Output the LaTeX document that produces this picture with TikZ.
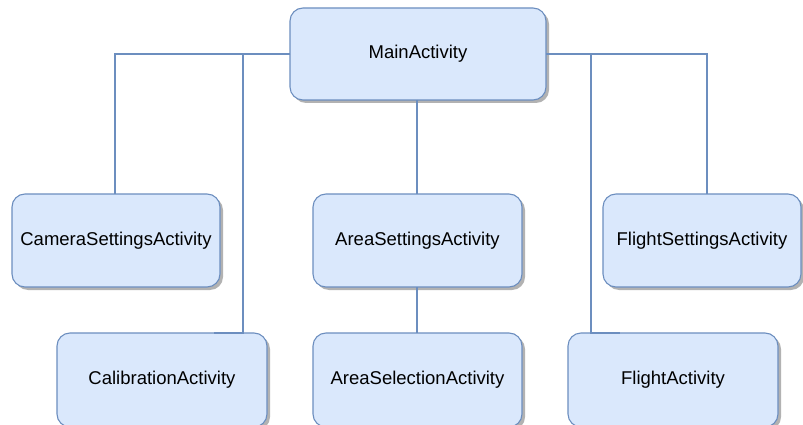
\documentclass[tikz,border=0pt]{standalone}
\usepackage{fontspec}
\setmainfont{Liberation Sans}
\usetikzlibrary{shadows}
\definecolor{boxfill}{HTML}{DAE8FC}
\definecolor{boxline}{HTML}{6C8EBF}
\begin{document}
\begin{tikzpicture}[x=1pt,y=-1pt,
  actbox/.style={draw=boxline, fill=boxfill, line width=1.1pt, rounded corners=13pt,
    inner sep=0pt, outer sep=0pt, font=\fontsize{18.5}{22}\selectfont,
    general shadow={fill=black!30, shadow xshift=3pt, shadow yshift=-3pt}},
  link/.style={draw=boxline, line width=1.7pt}]
\useasboundingbox (0,0) rectangle (803,425);
\node[actbox, minimum width=256pt, minimum height=92pt] (main) at (418,54) {MainActivity};
\node[actbox, minimum width=208pt, minimum height=93pt] (cam) at (116,240.5) {CameraSettingsActivity};
\node[actbox, minimum width=210pt, minimum height=94pt] (cal) at (162,380) {CalibrationActivity};
\node[actbox, minimum width=209pt, minimum height=93pt] (aset) at (417.5,240.5) {AreaSettingsActivity};
\node[actbox, minimum width=209pt, minimum height=94pt] (asel) at (417.5,380) {AreaSelectionActivity};
\node[actbox, minimum width=198pt, minimum height=93pt] (fset) at (702,240.5) {FlightSettingsActivity};
\node[actbox, minimum width=210pt, minimum height=94pt] (fly) at (673,380) {FlightActivity};
\coordinate (calin) at (243,333);
\coordinate (calend) at (214,333);
\coordinate (flyin) at (591,333);
\coordinate (flyend) at (620,333);
\draw[link] (main.west) -| (115,194) -- (cam.north -| 115,0);
\draw[link] (main.west) -| (calin) -- (calend);
\draw[link] (main.south -| 417,0) -- (aset.north -| 417,0);
\draw[link] (aset.south -| 417,0) -- (asel.north -| 417,0);
\draw[link] (main.east) -| (fset.north -| 707,0);
\draw[link] (main.east) -| (flyin) -- (flyend);
\end{tikzpicture}
\end{document}
